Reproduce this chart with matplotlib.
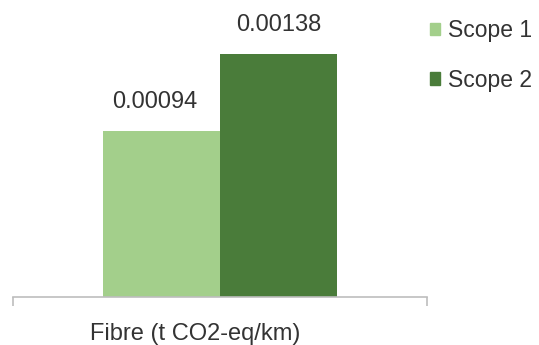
import matplotlib
matplotlib.use("Agg")
import matplotlib.pyplot as plt
from matplotlib.patches import Patch

categories = ["Fibre (t CO2-eq/km)"]
series_names = ["Scope 1", "Scope 2"]
scope1 = [0.00094]
scope2 = [0.00138]
colors = ["#a3cf8b", "#4a7c3a"]

plt.rcParams['font.family'] = ['Liberation Sans', 'DejaVu Sans']

fig = plt.figure(figsize=(5.39, 3.45), dpi=100)
ax = fig.add_axes([13/539, 1 - 297/345, 414/539, (297 - 20)/345])

w = 117/414
x0 = 0
b1 = ax.bar(x0 - w/2, scope1[0], width=w, color=colors[0], label=series_names[0])
b2 = ax.bar(x0 + w/2, scope2[0], width=w, color=colors[1], label=series_names[1])

for bars, vals in ((b1, scope1), (b2, scope2)):
    for r, v in zip(bars, vals):
        ax.annotate(f"{v:.5f}", (r.get_x() + r.get_width()/2, v),
                    xytext=(-5 if bars is b1 else 0, 13), textcoords="offset points",
                    ha="center", va="bottom", fontsize=17, color="#333333")

ax.set_xlim(-0.5, 0.5)
ax.set_ylim(0, 0.00138 * 277 / 243)
for s in ("top", "right", "left"):
    ax.spines[s].set_visible(False)
ax.spines["bottom"].set_color("#bdbdbd")
ax.spines["bottom"].set_linewidth(1.2)
ax.set_yticks([])
ax.set_xticks([-0.5, 0.5])
ax.set_xticklabels(["", ""])
ax.tick_params(axis="x", direction="out", length=6.5, width=1.2, color="#bdbdbd")

fig.text(195/539, 1 - 334/345, categories[0], ha="center", va="center",
         fontsize=17, color="#333333")

handles = [Patch(color=colors[0]), Patch(color=colors[1])]
fig.legend(handles, series_names, loc="upper left",
           bbox_to_anchor=(421/539, 1 - 10/345), frameon=False,
           fontsize=16.5, handlelength=0.45, handleheight=0.45,
           handletextpad=0.35, labelspacing=1.15, borderaxespad=0,
           labelcolor="#333333")

fig.savefig("out.png", dpi=100)
